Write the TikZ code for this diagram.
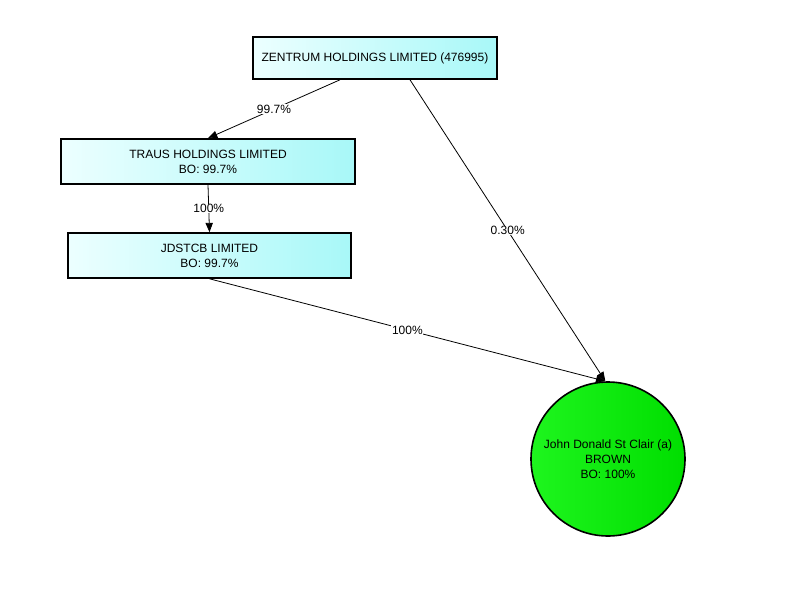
\documentclass[tikz,border=0pt]{standalone}
\usepackage{fontspec}
\setmainfont{Liberation Sans}
\usetikzlibrary{arrows.meta}

\definecolor{boxleft}{RGB}{236,255,255}
\definecolor{boxright}{RGB}{168,248,248}
\definecolor{personlight}{RGB}{30,245,30}
\definecolor{persondark}{RGB}{0,222,0}

\tikzset{
    company/.style = {
        draw = black,
        line width = 1.2pt,
        rectangle,
        left color = boxleft,
        right color = boxright,
        align = center,
        minimum height = 33.75pt,
        font = \fontsize{9}{11.25}\selectfont
    },
    person/.style = {
        draw = black,
        line width = 1.2pt,
        circle,
        left color = personlight,
        right color = persondark,
        align = center,
        minimum size = 115.5pt,
        inner sep = 0pt,
        font = \fontsize{9}{11.25}\selectfont
    },
    share/.style = {
        -{Triangle[length=7pt,width=5.5pt]},
        line width = 0.6pt
    },
    sharelabel/.style = {
        fill = white,
        inner sep = 0.5pt,
        font = \fontsize{9}{11}\selectfont
    }
}

\begin{document}
\begin{tikzpicture}[x=0.75pt,y=-0.75pt]
            \useasboundingbox (0,0) rectangle (800,600);
            \node[company, minimum width=183pt, minimum height=31.5pt] (zentrum) at (375,58) {ZENTRUM HOLDINGS LIMITED (476995)};
            \node[company, minimum width=220.5pt] (traus) at (208,161.5) {TRAUS HOLDINGS LIMITED\\BO: 99.7\%};
            \node[company, minimum width=212.25pt] (jdstcb) at (209.5,255.5) {JDSTCB LIMITED\\BO: 99.7\%};
            \node[person] (brown) at (608,459) {John Donald St Clair (a)\\BROWN\\BO: 100\%};
            \draw[share] ([xshift=-26.25pt]zentrum.south) -- (traus.north) node[sharelabel, midway] (lbla) {99.7\%};
            \draw[share] (traus.south) -- (jdstcb.north) node[sharelabel, midway] (lblb) {100\%};
            \draw[share] ([xshift=26.25pt]zentrum.south) -- ([xshift=-2pt]brown.north) node[sharelabel, midway] (lblc) {0.30\%};
            \draw[share] (jdstcb.south) -- ([xshift=-2pt]brown.north) node[sharelabel, midway] (lbld) {100\%};
        \end{tikzpicture}
\end{document}
